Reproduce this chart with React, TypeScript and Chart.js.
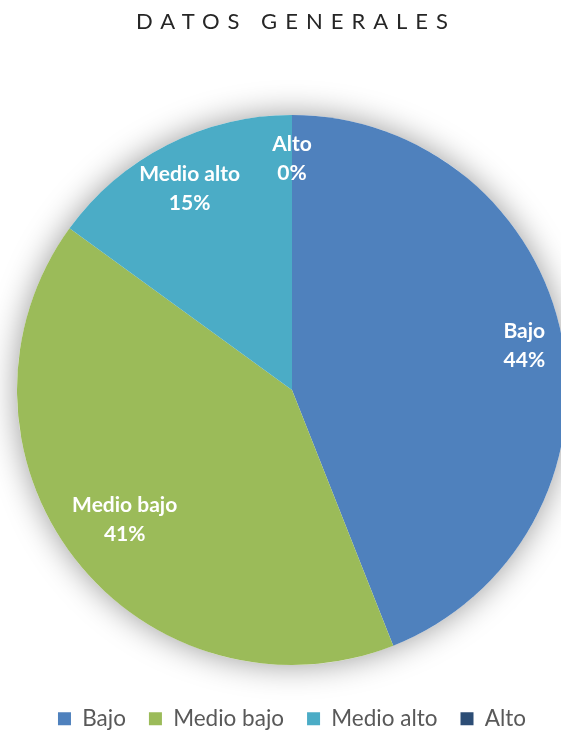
import React, { useEffect, useRef } from "react";
import { Chart, registerables } from "chart.js";

Chart.register(...registerables);

const categories = ["Bajo", "Medio bajo", "Medio alto", "Alto"];
const values = [44, 41, 15, 0];
const colors = ["#4F81BD", "#9BBB59", "#4BACC6", "#2C4D75"];
const titleText = "DATOS GENERALES";
const labelRadiusFraction = [0.86, 0.77, 0.82, 0.84];

const FONT = "Lato, 'Open Sans', sans-serif";

const titlePlugin = {
  id: "spacedTitle",
  afterDraw(chart: any) {
    const ctx = chart.ctx;
    const spacing = 8;
    ctx.save();
    ctx.font = `22px ${FONT}`;
    ctx.fillStyle = "#262626";
    ctx.textAlign = "center";
    ctx.textBaseline = "middle";
    (ctx as any).letterSpacing = `${spacing}px`;
    ctx.fillText(titleText, chart.width / 2 + spacing / 2, 22);
    ctx.restore();
  },
};

const shadowPlugin = {
  id: "pieShadow",
  beforeDatasetsDraw(chart: any) {
    const meta = chart.getDatasetMeta(0);
    const arc = meta.data[0];
    if (!arc) return;
    const ctx = chart.ctx;
    ctx.save();
    ctx.shadowColor = "rgba(0,0,0,0.4)";
    ctx.shadowBlur = 32;
    ctx.fillStyle = "#ffffff";
    ctx.beginPath();
    ctx.arc(arc.x, arc.y, arc.outerRadius, 0, Math.PI * 2);
    ctx.fill();
    ctx.restore();
  },
};

const labelPlugin = {
  id: "sliceLabels",
  afterDatasetsDraw(chart: any) {
    const meta = chart.getDatasetMeta(0);
    const data = chart.data.datasets[0].data as number[];
    const total = data.reduce((a, b) => a + b, 0);
    const ctx = chart.ctx;
    ctx.save();
    ctx.font = `bold 21px ${FONT}`;
    ctx.fillStyle = "#ffffff";
    ctx.textAlign = "center";
    ctx.textBaseline = "middle";
    meta.data.forEach((arc: any, i: number) => {
      const mid = (arc.startAngle + arc.endAngle) / 2;
      const r = arc.outerRadius * labelRadiusFraction[i];
      const x = arc.x + Math.cos(mid) * r;
      const y = arc.y + Math.sin(mid) * r;
      const pct = Math.round((data[i] / total) * 100) + "%";
      ctx.fillText(chart.data.labels[i], x, y - 14.5);
      ctx.fillText(pct, x, y + 14.5);
    });
    ctx.restore();
  },
};

export default function App() {
  const ref = useRef<HTMLCanvasElement | null>(null);
  useEffect(() => {
    if (!ref.current) return;
    const chart = new Chart(ref.current, {
      type: "pie",
      data: {
        labels: categories,
        datasets: [
          {
            data: values,
            backgroundColor: colors,
            borderWidth: 0,
          },
        ],
      },
      options: {
        animation: false,
        responsive: false,
        devicePixelRatio: 1,
        layout: { padding: { top: 95.5, bottom: 0, left: 17, right: 17 } },
        plugins: {
          title: { display: false },
          tooltip: { enabled: false },
          legend: {
            display: true,
            position: "bottom",
            labels: {
              boxWidth: 13,
              boxHeight: 13,
              padding: 23,
              color: "#595959",
              font: { family: FONT, size: 22.5 },
            },
          },
        },
      },
      plugins: [titlePlugin, shadowPlugin, labelPlugin],
    });
    return () => chart.destroy();
  }, []);
  return (
    <div
      style={{
        position: "fixed",
        left: 0,
        top: 0,
        width: 561,
        height: 730,
        overflow: "hidden",
        background: "#ffffff",
      }}
    >
      <canvas ref={ref} width={584} height={740} style={{ display: "block" }} />
    </div>
  );
}
